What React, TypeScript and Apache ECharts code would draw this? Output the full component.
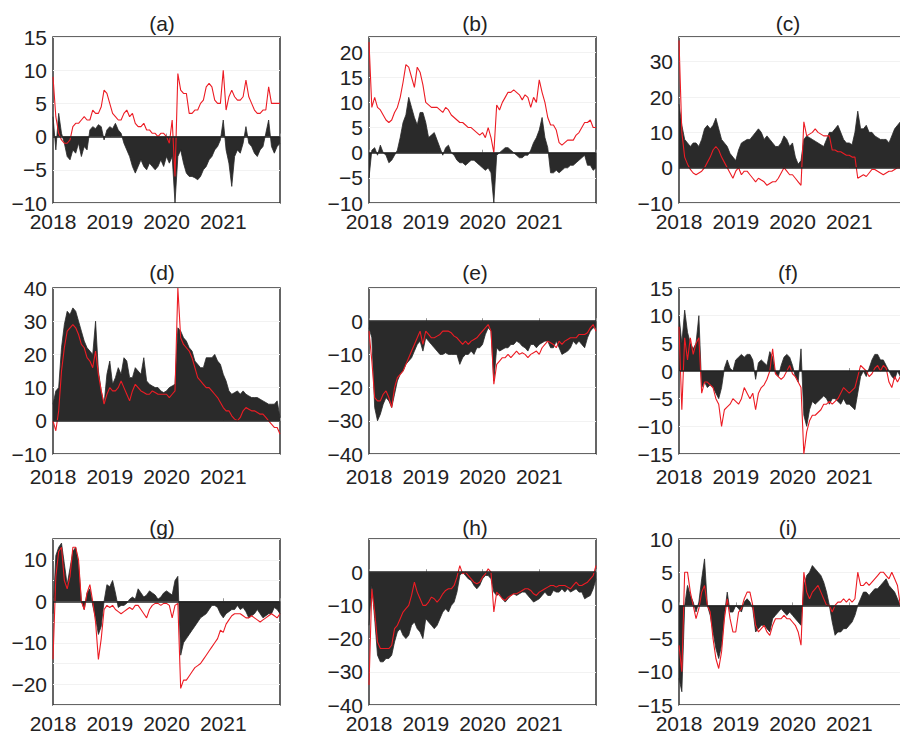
import React, { useEffect, useRef } from "react";
import * as echarts from "echarts";

// Time grid: 2018.00 .. 2022.00 in steps of 0.05 year (81 samples)
const YEARS: number[] = Array.from({ length: 81 }, (_, i) => +(2018 + i * 0.05).toFixed(2));
const YEAR_LABELS = [2018, 2019, 2020, 2021];

const A_BLACK = [3,-2,3.5,0.5,-1,-3,-3.5,-2,-2.5,-1, -3,-1.5,-2,1,1.5,1.2,1.8,1.5,-0.5,1, 1.5,1.2,2,1,0.5,-1,-2,-3,-4.5,-5.5, -4.5,-3.5,-4.5,-5,-4,-4.5,-5,-4.5,-3.5,-4.5, -3,-4,-3,-10,-3,-2,-4,-5.5,-6,-6, -6.2,-6.5,-6,-5,-4.5,-3.5,-3,-2,-1.5,-0.5, 2.5,-2,-4,-7.5,-3,-2,-2.5,-1,1.5,-1, -1.5,-2.5,-3,-2,-1.5,0.5,2.5,-1.5,-2.5,-1.5,-1];
const A_RED = [9,3,0.5,-0.5,-1,-1,-0.5,1.5,2,2, 2.5,3,2.5,2.5,4,3.5,3.5,4.5,7,6.5, 5,3.5,3,2.5,2.5,3.5,4,3,3.5,2, 1.5,1.5,2,1,1,0.5,0.5,0,0.5,0.5, 0,-1,2.5,-6,9.5,7,6.5,6.5,3.5,3.5, 4,4,5,5.5,7.5,8,7.5,5.5,5,5, 10,4,6,7,6,5.5,5.5,6,8.5,6, 5,4,3.5,3.5,4,4,7.5,5,5,5,5];

const B_BLACK = [-5,0.5,1,-0.5,1.5,0,-0.5,-2,-1.5,-0.5, 0.5,3,6,7.5,11,9,7,5.5,8,8, 6,3,3.5,4,2.5,1,-0.5,1,1.5,0, -0.5,-1.5,-2,-2,-2.5,-2,-1.5,-1.5,-2,-2.5, -3,-3.5,-3,-4,-10,-0.5,0,0.5,1,1, 0.5,0,-0.5,-1,-1,-0.5,-0.5,0.5,2,3, 4.5,7,3,1,-4,-4,-3.5,-4,-3.5,-3, -3,-2.5,-2.5,-2,-1.5,-1,-0.5,-2.5,-2.5,-3.5,-3];
const B_RED = [22,9,11,9,8.5,7.5,6.5,6,6.5,8, 9,11,14,17.5,17,15,13,17,16,13.5, 10,9.5,9,9,9,8.5,8,9,8.5,7.5, 7,6.5,6,6,5.5,5,5,4.5,4,3.5, 4,3,5,3,0,9.5,8.5,10,11,12, 12,12.5,12,11.5,10.5,11.5,11,9,11,10, 14.5,12,10,7,5.5,5.5,4.5,2,1.5,2, 2.5,2.5,2.5,3.5,4,5,6,6,6.5,5,5];

const C_BLACK = [18,12,8,7,6,7,7,6,8,11, 12,11,12,14,11,8,7,6,4,3, 2,5,7,7.5,8,8,9,10,11,10, 8,9,8,7,6,6,7,9,8,6, 7,3,1,2,8,9,8.5,8,7.5,7, 6.5,6,8,10,10,11,12,10,8,7, 7,6.5,10,16,11,11,12,10,10,9, 8.5,8,8,8,7,9,11,12,13,13,12];
const C_RED = [36,10,3,1,-0.5,-1.5,-2,-1.5,-1,0, 1.5,3,5,6,5,3,1.5,0,-1.5,-3, -1,0,-2,-1,-1,-2,-3,-4,-3,-3.5, -4,-5,-4.5,-4,-4,-3,-1.5,0,-1,-2, -2,-3,-4,-5,13,9,9.5,10,11,10, 9.5,9,9,9,5,5,4.5,4.5,4,3.5, 3.5,3,3,-3,-2.5,-2,-2.5,-1.5,-0.5,-0.5, -1,-1.5,-2,-1.5,-1,-1,-0.5,0,0,0.5,0.5];

const D_BLACK = [5,9,10,22,29,33,32,34,33,30, 27,24,22,21,20,30,15,9,5,14, 18,11,13,16,14,19,18,13,13,16, 15,14,19,12,11,10.5,10,10,9,8.5, 9,10,10.5,11,28,27,25,24,22,21, 18,17,16,16,19,19,19,20,18,17, 14,12,9,8,8.5,9,8,9,8,7.5, 7,7,7,6.5,6,5.5,5,5,5,6,1];
const D_RED = [0,-3,3,15,22,27,28,29,28,26, 23,22,19,18,16,21,14,9,5,8, 10,9,9,10,12,10,8,6,9,11, 10,9,8.5,8,8,9,8.5,8,8,8, 8,7,8,9,40,25,23,22,21,19, 16,13,12,11,10,10,9,8,7,5.5, 4,3,3,1.5,0.5,0,1,3,4,3.5, 3,3,2.5,2,2,1,0,-1,-2,-2,-4];

const E_BLACK = [-2,-5,-26,-30,-28,-25,-23,-24,-26,-22, -18,-16,-15,-13,-12,-11,-9,-7,-6,-9, -5,-6,-7,-8,-9,-10,-10,-9.5,-10,-10, -10,-10,-13,-11,-10,-10,-9,-10,-8,-8, -7,-4,-2,-3,-18,-8,-9,-8.5,-8,-8, -7,-7,-6,-6.5,-7.5,-8,-9,-7,-7,-8, -7,-6.5,-6,-6,-8,-8,-6,-8,-10,-9.5, -9,-8,-6,-7,-6,-7,-8,-5,-3,-2,-2];
const E_RED = [-3,-12,-23,-24,-24,-22,-21,-23,-26,-20, -17,-16,-15,-13,-11,-9,-7,-5,-3,-7, -3,-4,-5,-5,-4.5,-4,-3,-3,-3,-3.5, -4.5,-5,-6,-7,-6,-7,-6,-5.5,-5,-4, -3,-2,-1,-3,-19,-13,-12,-11,-11,-10, -11,-10,-9,-10,-9.5,-10,-11,-10,-9.5,-9, -10,-8,-7,-6,-6.5,-7,-8,-6,-7,-6, -5.5,-5,-5,-5,-4,-4,-4,-3.5,-2,-1,-3];

const F_BLACK = [10,5,11,7,5,4,5,10,-3,-2, -3,-2.5,-3,-4,-5,-3,0.5,2,0.5,0, 2,2.5,3,2.5,3,3,2,-1.5,1.5,2, 1.5,1,3.5,2.5,-0.5,-1,1,2.5,3,2.5, 1,-1,-2,4,-8,-10,-7,-5.5,-6,-5.5, -5,-4.5,-5,-6,-5,-5,-5.5,-6,-5,-6, -6,-6.5,-7,-4,-1,0,-1,0.5,2,3, 3,2,2,1,0,-1,-1.5,0,-1,-1,-1];
const F_RED = [8,-7,6,2,6,3,5,6,-4,-2, -2,-2.5,-3,-5,-6,-10,-7,-6.5,-6,-5, -5.5,-6,-5,-3,-4,-5,-4,-7,-4,-3, -2.5,-1.5,0,4,-0.5,-1,-1.5,-1,0,1, -0.5,-1,-2,-3,-15,-11,-9,-8,-8,-7.5, -7,-6,-6,-5.5,-6,-5.5,-5,-4,-3,-3.5, -4,-3.5,-3,-1,1,0.5,0,-1,-0.5,0.5, 1,0,1,0.5,-2,-3,-1,-2,-1,-1,-1];

const G_BLACK = [-3,11,13,14,9,4,8,12,13,9, 0,-2,2,3,-1,-4,-8,-6,0,4, 3.5,5,2,-1.5,-1,-1,-0.5,0.5,1,0.5, 3,2,1,1.5,2.5,2,1.5,0.5,1,2, 2.5,2,1.5,5,6,-13,-10,-9,-8,-7, -6,-5,-4,-3.5,-3,-2,-1,-1,-1.5,-3, -4,-3,-2.5,-2,-2,-1,-2,-1.5,-2.5,-4, -3.5,-3,-2,-3,-4,-3.5,-3,-3,-1.5,-2,-3];
const G_RED = [-14,6,12,13,5,3,6,13,13,10, 0,-2,2,4,0,-5,-14,-9,-2,-1, -1.5,-1,-2,-2.5,-3,-2.5,-2,-1.5,-2,-1, -1,-2,-3,-4,-2,-1,-0.5,-0.5,-1,-0.5, -0.5,-1,-4,-1,-0.5,-21,-19,-19,-18,-17, -16,-15.5,-15,-14,-13,-12,-11,-10,-9,-7, -7.5,-5.5,-4.5,-3.5,-3,-3,-3,-3.5,-4,-4, -3.5,-4,-4.5,-5,-4.5,-4,-3.5,-3,-3.5,-4,-3];

const H_BLACK = [-16,-4,-14,-25,-27,-27,-26,-26,-25,-21, -18,-17,-19,-20,-19,-16,-15,-17,-18,-20, -14,-15,-16,-17,-16,-14,-12,-11,-12,-10, -9,-6,-1,0,-1,-2,-2.5,-4,-5,-4, -2,-1,-1,-2,-6,-7,-6.5,-8,-9,-8, -7,-6.5,-7,-6.5,-6,-6,-7,-8,-9,-8.5, -8,-7,-6,-7,-7,-5.5,-6,-6,-5,-6, -5,-6,-5.5,-5,-6,-6,-8,-7.5,-7,-5,-2];
const H_RED = [-34,-5,-12,-21,-23,-23,-23,-23,-22,-17, -16,-14,-12,-11,-10,-7,-3,-6,-8,-10, -10,-9,-7.5,-8,-9,-8,-6.5,-5.5,-5,-5, -4,-1.5,2,-0.5,0,-1,-2,-3,-3.5,-3, -1.5,-0.5,1,0,-12,-6,-7,-8,-8.5,-7.5, -7,-6.5,-6.5,-6,-5.5,-5,-5,-5.5,-6.5,-7, -6,-5.5,-5,-4.5,-4,-4,-4.5,-4,-4,-4, -4.5,-5,-4,-3,-4,-4,-3.5,-3,-2,-1,2];

const I_BLACK = [-11,-13,0,3,1.5,0.5,-1,0.5,4,7, 0,-1.5,-4,-6.5,-8,-6,-1.5,2,-1,-1, 0,-0.5,-1,0.5,1,0.5,-0.5,-4,-3.5,-3, -3,-3.5,-4,-2,-1.5,-1,-0.5,-1,-1.5,-1, -1.5,-2,-2.5,-3,3,4.5,5,6,5.5,5, 4.5,3.5,2,0,-2.5,-4.5,-4,-4,-3.5,-3.5, -3,-2.5,-1.5,0,1,2,2,1.5,2,2.5, 2.5,3,3.5,4,3,2.5,2,1,0,0,0];
const I_RED = [-6,-10,5,5,2,0,-2,-0.5,2,3, 0,-1,-5,-8,-9.5,-7,-2,1,-2,-4, -4,-1,-0.5,1,2,2,0,-3,-4,-3.5, -3,-4,-4.5,-3,-2,-2,-2,-1.5,-2,-2, -2.5,-3,-4,-6,5,2,1,2,2.5,3, 2,1,0,0,-1,0,0.5,0.5,1,0.5, 1,0.5,1,5,3,3,3.5,3,3.5,4, 4.5,5,5,4.5,4,5,4,3,0,0,0];

const PANEL_TITLES = ["(a)", "(b)", "(c)", "(d)", "(e)", "(f)", "(g)", "(h)", "(i)"];
const BLACK_SERIES = [A_BLACK, B_BLACK, C_BLACK, D_BLACK, E_BLACK, F_BLACK, G_BLACK, H_BLACK, I_BLACK];
const RED_SERIES = [A_RED, B_RED, C_RED, D_RED, E_RED, F_RED, G_RED, H_RED, I_RED];
const Y_MIN = [-10, -10, -10, -10, -40, -15, -25, -40, -15];
const Y_MAX = [15, 23, 37, 40, 10, 15, 15, 10, 10];
const Y_STEP = [5, 5, 10, 10, 10, 5, 5, 10, 5];
const Y_LABELS = [
  [-10, -5, 0, 5, 10, 15],
  [-10, -5, 0, 5, 10, 15, 20],
  [-10, 0, 10, 20, 30],
  [-10, 0, 10, 20, 30, 40],
  [-40, -30, -20, -10, 0],
  [-15, -10, -5, 0, 5, 10, 15],
  [-20, -10, 0, 10],
  [-40, -30, -20, -10, 0],
  [-15, -10, -5, 0, 5, 10],
];

const FONT = "'Liberation Sans', Arial, sans-serif";
const COL_LEFT = [53, 369, 679];
const COL_TITLE_X = [162, 475, 788];
const ROW_TOP = [37, 288, 539];
const ROW_TITLE_Y = [23, 272, 527];
const ROW_XLABEL_MARGIN = [8, 12, 8];
const PLOT_W = 227;
const PLOT_H = 166;

const fmtMinus = (v: number) => String(v).replace("-", "\u2212");

export default function App() {
  const ref = useRef<HTMLDivElement>(null);

  useEffect(() => {
    if (!ref.current) return;
    const chart = echarts.init(ref.current, undefined, { renderer: "svg" });

    const grids: any[] = [];
    const xAxes: any[] = [];
    const yAxes: any[] = [];
    const series: any[] = [];
    const graphics: any[] = [];

    for (let p = 0; p < 9; p++) {
      const row = Math.floor(p / 3);
      const col = p % 3;
      grids.push({
        left: COL_LEFT[col],
        top: ROW_TOP[row],
        width: PLOT_W,
        height: PLOT_H,
        show: true,
        backgroundColor: "#ffffff",
        borderColor: "#333333",
        borderWidth: 1.5,
        containLabel: false,
        outerBoundsMode: "none",
      });
      xAxes.push({
        type: "value",
        gridIndex: p,
        min: 2018,
        max: 2022,
        interval: 1,
        axisLine: { show: false },
        axisTick: { show: true, inside: true, length: 3, lineStyle: { color: "#999" } },
        splitLine: { show: false },
        axisLabel: {
          show: true,
          margin: ROW_XLABEL_MARGIN[row],
          fontSize: 21,
          lineHeight: 21,
          fontFamily: FONT,
          color: "#222",
          formatter: (v: number) => (YEAR_LABELS.includes(Math.round(v)) ? String(Math.round(v)) : ""),
        },
      });
      const labels = Y_LABELS[p];
      yAxes.push({
        type: "value",
        gridIndex: p,
        min: Y_MIN[p],
        max: Y_MAX[p],
        interval: Y_STEP[p],
        axisLine: { show: false },
        axisTick: { show: false },
        splitLine: { show: true, lineStyle: { color: "#f2f2f2", width: 1 } },
        axisLabel: {
          show: true,
          margin: 6,
          fontSize: 21,
          fontFamily: FONT,
          color: "#222",
          formatter: (v: number) => (labels.includes(Math.round(v)) && Math.abs(v - Math.round(v)) < 1e-6 ? fmtMinus(Math.round(v)) : ""),
        },
      });
      series.push({
        type: "line",
        xAxisIndex: p,
        yAxisIndex: p,
        data: YEARS.map((t, i) => [t, BLACK_SERIES[p][i]]),
        showSymbol: false,
        symbol: "none",
        lineStyle: { color: "#2a2a2a", width: 0.8 },
        areaStyle: { color: "#2a2a2a", opacity: 1 },
        z: 2,
        markLine: {
          silent: true,
          symbol: "none",
          label: { show: false },
          lineStyle: { color: "#222", width: 1.5, type: "solid" },
          data: [{ yAxis: 0 }],
        },
      });
      series.push({
        type: "line",
        xAxisIndex: p,
        yAxisIndex: p,
        data: YEARS.map((t, i) => [t, RED_SERIES[p][i]]),
        showSymbol: false,
        symbol: "none",
        lineStyle: { color: "#ec1c24", width: 1.1 },
        z: 3,
      });
      graphics.push({
        type: "text",
        x: COL_TITLE_X[col],
        y: ROW_TITLE_Y[row],
        style: {
          text: PANEL_TITLES[p],
          align: "center",
          verticalAlign: "middle",
          font: `21px ${FONT}`,
          fill: "#222",
        },
      });
    }

    chart.setOption({
      animation: false,
      backgroundColor: "#ffffff",
      grid: grids,
      xAxis: xAxes,
      yAxis: yAxes,
      series,
      graphic: graphics,
    });

    return () => chart.dispose();
  }, []);

  return (
    <div
      ref={ref}
      style={{ position: "fixed", left: 0, top: 0, width: 900, height: 734, background: "#fff" }}
    />
  );
}
